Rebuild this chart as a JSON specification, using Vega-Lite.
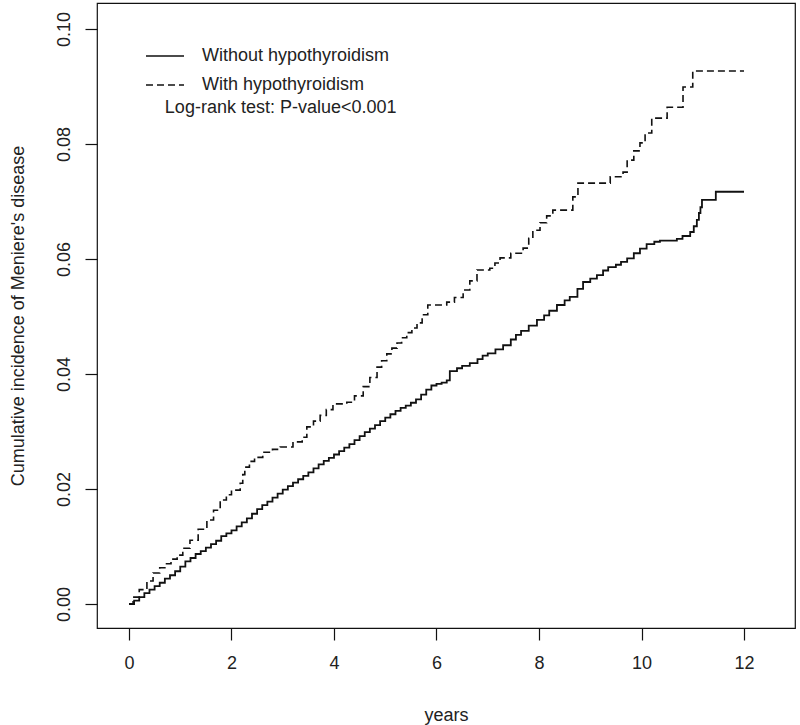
{
  "$schema": "https://vega.github.io/schema/vega-lite/v6.json",
  "width": 698,
  "height": 625,
  "autosize": {"type": "none"},
  "padding": {"left": 97, "top": 3, "right": 5, "bottom": 97},
  "background": "white",
  "config": {
    "font": "Liberation Sans",
    "view": {"stroke": "#111", "strokeWidth": 1.2},
    "axis": {"grid": false, "domain": false, "tickColor": "#111", "tickSize": 12, "tickWidth": 1.2, "labelColor": "#222", "titleColor": "#222", "labelFontSize": 18, "titleFontSize": 18, "titleFontWeight": "normal", "labelFont": "Liberation Sans", "titleFont": "Liberation Sans"}
  },
  "datasets": {
    "solid": [
      {"t": 0, "v": 0}, {"t": 0.1, "v": 0.0006}, {"t": 0.2, "v": 0.0012}, {"t": 0.3, "v": 0.0019}, {"t": 0.4, "v": 0.0025}, {"t": 0.5, "v": 0.0031}, {"t": 0.6, "v": 0.0037}, {"t": 0.7, "v": 0.0044}, {"t": 0.8, "v": 0.005}, {"t": 0.9, "v": 0.0057}, {"t": 1.0, "v": 0.0065}, {"t": 1.1, "v": 0.0074}, {"t": 1.2, "v": 0.008}, {"t": 1.3, "v": 0.0087}, {"t": 1.4, "v": 0.0092}, {"t": 1.5, "v": 0.0098}, {"t": 1.6, "v": 0.0104}, {"t": 1.7, "v": 0.011}, {"t": 1.8, "v": 0.0118}, {"t": 1.9, "v": 0.0123}, {"t": 2.0, "v": 0.0128}, {"t": 2.1, "v": 0.0135}, {"t": 2.2, "v": 0.0142}, {"t": 2.3, "v": 0.0149}, {"t": 2.4, "v": 0.0157}, {"t": 2.5, "v": 0.0165}, {"t": 2.6, "v": 0.0172}, {"t": 2.7, "v": 0.0178}, {"t": 2.8, "v": 0.0185}, {"t": 2.9, "v": 0.0192}, {"t": 3.0, "v": 0.0199}, {"t": 3.1, "v": 0.0205}, {"t": 3.2, "v": 0.0211}, {"t": 3.3, "v": 0.0217}, {"t": 3.4, "v": 0.0223}, {"t": 3.5, "v": 0.0229}, {"t": 3.6, "v": 0.0236}, {"t": 3.7, "v": 0.0243}, {"t": 3.8, "v": 0.0249}, {"t": 3.9, "v": 0.0254}, {"t": 4.0, "v": 0.026}, {"t": 4.1, "v": 0.0266}, {"t": 4.2, "v": 0.0272}, {"t": 4.3, "v": 0.0278}, {"t": 4.4, "v": 0.0285}, {"t": 4.5, "v": 0.0292}, {"t": 4.6, "v": 0.0299}, {"t": 4.7, "v": 0.0305}, {"t": 4.8, "v": 0.0311}, {"t": 4.9, "v": 0.0318}, {"t": 5.0, "v": 0.0324}, {"t": 5.1, "v": 0.033}, {"t": 5.2, "v": 0.0336}, {"t": 5.3, "v": 0.0341}, {"t": 5.4, "v": 0.0345}, {"t": 5.5, "v": 0.035}, {"t": 5.6, "v": 0.0356}, {"t": 5.7, "v": 0.0364}, {"t": 5.8, "v": 0.0373}, {"t": 5.9, "v": 0.038}, {"t": 6.0, "v": 0.0383}, {"t": 6.1, "v": 0.0385}, {"t": 6.2, "v": 0.0389}, {"t": 6.26, "v": 0.0405}, {"t": 6.4, "v": 0.041}, {"t": 6.5, "v": 0.0414}, {"t": 6.65, "v": 0.0419}, {"t": 6.8, "v": 0.0426}, {"t": 6.9, "v": 0.0432}, {"t": 7.0, "v": 0.0436}, {"t": 7.15, "v": 0.0443}, {"t": 7.3, "v": 0.045}, {"t": 7.45, "v": 0.046}, {"t": 7.55, "v": 0.0468}, {"t": 7.65, "v": 0.0475}, {"t": 7.8, "v": 0.0484}, {"t": 7.96, "v": 0.0494}, {"t": 8.1, "v": 0.0502}, {"t": 8.2, "v": 0.051}, {"t": 8.35, "v": 0.052}, {"t": 8.5, "v": 0.0528}, {"t": 8.6, "v": 0.0534}, {"t": 8.75, "v": 0.0548}, {"t": 8.86, "v": 0.056}, {"t": 9.0, "v": 0.0566}, {"t": 9.13, "v": 0.0572}, {"t": 9.25, "v": 0.058}, {"t": 9.35, "v": 0.0586}, {"t": 9.5, "v": 0.059}, {"t": 9.6, "v": 0.0595}, {"t": 9.72, "v": 0.0601}, {"t": 9.85, "v": 0.061}, {"t": 9.97, "v": 0.0618}, {"t": 10.1, "v": 0.0626}, {"t": 10.25, "v": 0.063}, {"t": 10.36, "v": 0.0632}, {"t": 10.69, "v": 0.0635}, {"t": 10.8, "v": 0.064}, {"t": 10.95, "v": 0.0647}, {"t": 11.02, "v": 0.0657}, {"t": 11.08, "v": 0.0668}, {"t": 11.12, "v": 0.068}, {"t": 11.15, "v": 0.069}, {"t": 11.18, "v": 0.0703}, {"t": 11.45, "v": 0.0717}, {"t": 12.0, "v": 0.0717}
    ],
    "dashed": [
      {"t": 0, "v": 0}, {"t": 0.08, "v": 0.0012}, {"t": 0.2, "v": 0.0025}, {"t": 0.35, "v": 0.004}, {"t": 0.47, "v": 0.0054}, {"t": 0.6, "v": 0.0063}, {"t": 0.7, "v": 0.007}, {"t": 0.82, "v": 0.0078}, {"t": 0.94, "v": 0.0085}, {"t": 1.05, "v": 0.0097}, {"t": 1.19, "v": 0.0111}, {"t": 1.35, "v": 0.013}, {"t": 1.52, "v": 0.0146}, {"t": 1.65, "v": 0.0163}, {"t": 1.78, "v": 0.0181}, {"t": 1.9, "v": 0.019}, {"t": 2.0, "v": 0.0198}, {"t": 2.17, "v": 0.021}, {"t": 2.22, "v": 0.0225}, {"t": 2.26, "v": 0.0238}, {"t": 2.35, "v": 0.0248}, {"t": 2.45, "v": 0.0255}, {"t": 2.61, "v": 0.0264}, {"t": 2.8, "v": 0.0269}, {"t": 2.95, "v": 0.0273}, {"t": 3.2, "v": 0.0282}, {"t": 3.38, "v": 0.029}, {"t": 3.47, "v": 0.0308}, {"t": 3.6, "v": 0.0318}, {"t": 3.73, "v": 0.0328}, {"t": 3.85, "v": 0.0338}, {"t": 3.98, "v": 0.0348}, {"t": 4.25, "v": 0.0351}, {"t": 4.4, "v": 0.0362}, {"t": 4.57, "v": 0.0378}, {"t": 4.7, "v": 0.0394}, {"t": 4.84, "v": 0.0412}, {"t": 4.93, "v": 0.0423}, {"t": 5.03, "v": 0.0435}, {"t": 5.13, "v": 0.0445}, {"t": 5.23, "v": 0.0454}, {"t": 5.32, "v": 0.0463}, {"t": 5.42, "v": 0.0472}, {"t": 5.52, "v": 0.048}, {"t": 5.62, "v": 0.0489}, {"t": 5.72, "v": 0.0503}, {"t": 5.83, "v": 0.052}, {"t": 6.2, "v": 0.0525}, {"t": 6.35, "v": 0.0533}, {"t": 6.52, "v": 0.0546}, {"t": 6.65, "v": 0.0562}, {"t": 6.79, "v": 0.0581}, {"t": 7.04, "v": 0.0584}, {"t": 7.14, "v": 0.0593}, {"t": 7.24, "v": 0.0602}, {"t": 7.45, "v": 0.061}, {"t": 7.69, "v": 0.0619}, {"t": 7.8, "v": 0.0636}, {"t": 7.88, "v": 0.065}, {"t": 8.02, "v": 0.0663}, {"t": 8.15, "v": 0.0675}, {"t": 8.27, "v": 0.0685}, {"t": 8.66, "v": 0.0708}, {"t": 8.76, "v": 0.0732}, {"t": 9.39, "v": 0.0743}, {"t": 9.64, "v": 0.0751}, {"t": 9.72, "v": 0.0772}, {"t": 9.85, "v": 0.0788}, {"t": 9.97, "v": 0.0802}, {"t": 10.07, "v": 0.0819}, {"t": 10.2, "v": 0.0845}, {"t": 10.5, "v": 0.0864}, {"t": 10.81, "v": 0.0899}, {"t": 11.0, "v": 0.0927}, {"t": 12.0, "v": 0.0927}
    ],
    "note": [{"label": "Log-rank test: P-value<0.001"}]
  },
  "layer": [
    {
      "data": {"name": "solid"},
      "mark": {"type": "line", "interpolate": "step-after", "color": "#111", "strokeWidth": 1.8},
      "encoding": {
        "x": {"field": "t", "type": "quantitative", "title": "years",
              "scale": {"domain": [-0.624, 12.995], "nice": false, "zero": false},
              "axis": {"values": [0, 2, 4, 6, 8, 10, 12], "labelPadding": 14, "titlePadding": 34, "labelFlush": false}},
        "y": {"field": "v", "type": "quantitative", "title": "Cumulative incidence of Meniere's disease",
              "scale": {"domain": [-0.00417, 0.10452], "nice": false, "zero": false},
              "axis": {"values": [0, 0.02, 0.04, 0.06, 0.08, 0.1], "format": ".2f", "labelAngle": -90, "labelAlign": "center", "labelBaseline": "bottom", "labelPadding": 12, "titlePadding": 28, "labelFlush": false}},
        "strokeDash": {"datum": "Without hypothyroidism", "type": "nominal",
          "scale": {"domain": ["Without hypothyroidism", "With hypothyroidism"], "range": [[1, 0], [7, 4]]},
          "legend": {"title": null, "orient": "none", "legendX": 48, "legendY": 33, "symbolType": "stroke", "symbolSize": 1444, "symbolStrokeWidth": 1.4, "symbolStrokeColor": "#111", "labelFontSize": 18, "labelColor": "#222", "labelFont": "Liberation Sans", "labelOffset": 17, "labelLimit": 500, "rowPadding": -15, "padding": 0}}
      }
    },
    {
      "data": {"name": "dashed"},
      "mark": {"type": "line", "interpolate": "step-after", "color": "#111", "strokeWidth": 1.6},
      "encoding": {
        "x": {"field": "t", "type": "quantitative"},
        "y": {"field": "v", "type": "quantitative"},
        "strokeDash": {"datum": "With hypothyroidism", "type": "nominal"}
      }
    },
    {
      "data": {"name": "note"},
      "mark": {"type": "text", "align": "left", "baseline": "middle", "fontSize": 18, "color": "#222", "font": "Liberation Sans"},
      "encoding": {
        "x": {"datum": 0.7, "type": "quantitative"},
        "y": {"datum": 0.0862, "type": "quantitative"},
        "text": {"field": "label"}
      }
    }
  ]
}
